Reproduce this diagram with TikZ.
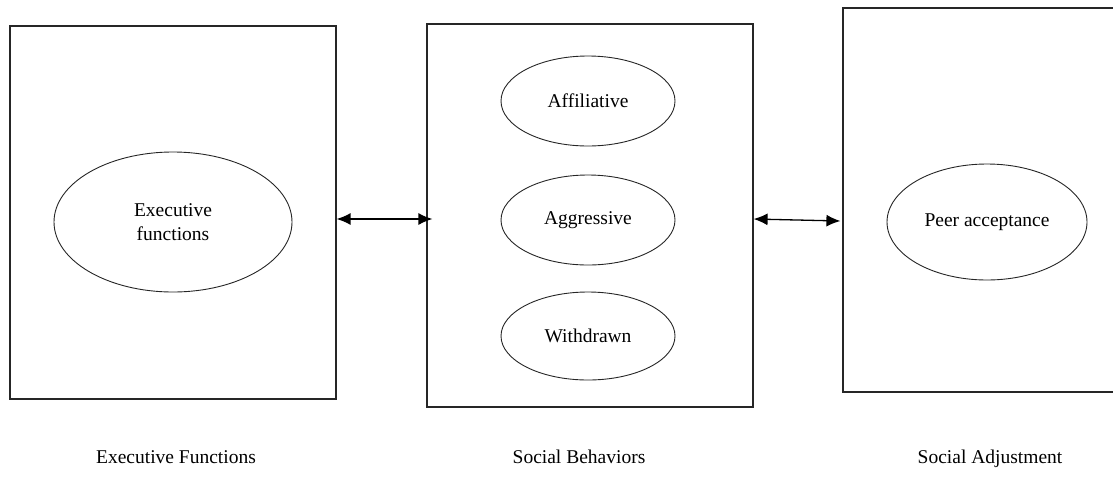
\documentclass[tikz,border=0pt]{standalone}
\usepackage{fontspec}
\setmainfont{Liberation Serif}
\usetikzlibrary{shapes.geometric,arrows.meta}
\begin{document}
\begin{tikzpicture}[x=1pt,y=-1pt,
  panel/.style={draw=black!85,line width=1.2pt,inner sep=0pt},
  oval/.style={ellipse,draw=black!85,line width=0.9pt,inner sep=0pt,align=center,
    font=\fontsize{19.5}{24}\selectfont},
  caption/.style={anchor=base,font=\fontsize{19.5}{24}\selectfont},
  link/.style={line width=1.3pt,{Latex[length=14pt,width=12pt]}-{Latex[length=14pt,width=12pt]}}]
\useasboundingbox (0,0) rectangle (1113,496);
\node[panel,minimum width=326pt,minimum height=373pt] (b1) at (173,212.5) {};
\node[panel,minimum width=326pt,minimum height=383pt] (b2) at (590,215.5) {};
\node[panel,minimum width=290pt,minimum height=384pt] (b3) at (988,200) {};
\node[oval,minimum width=238pt,minimum height=140pt] (ef) at (173,222) {Executive\\functions};
\node[oval,minimum width=174pt,minimum height=90pt] (af) at (588,101) {Affiliative};
\node[oval,minimum width=174pt,minimum height=90pt] (ag) at (588,220) {Aggressive};
\node[oval,minimum width=174pt,minimum height=88pt] (wd) at (588,336) {Withdrawn};
\node[oval,minimum width=200pt,minimum height=116pt] (pa) at (987,222) {Peer acceptance};
\node[caption] (c1) at (176,463) {Executive Functions};
\node[caption] (c2) at (579,463) {Social Behaviors};
\node[caption] (c3) at (990,463) {Social Adjustment};
\coordinate (a1s) at (b1.east |- 0,219);
\coordinate (a1e) at ([xshift=6pt]b2.west |- 0,219);
\coordinate (a2s) at (b2.east |- 0,219);
\coordinate (a2e) at ([xshift=-2pt]b3.west |- 0,221);
\draw[link] (a1s) -- (a1e);
\draw[link] (a2s) -- (a2e);
\end{tikzpicture}
\end{document}
